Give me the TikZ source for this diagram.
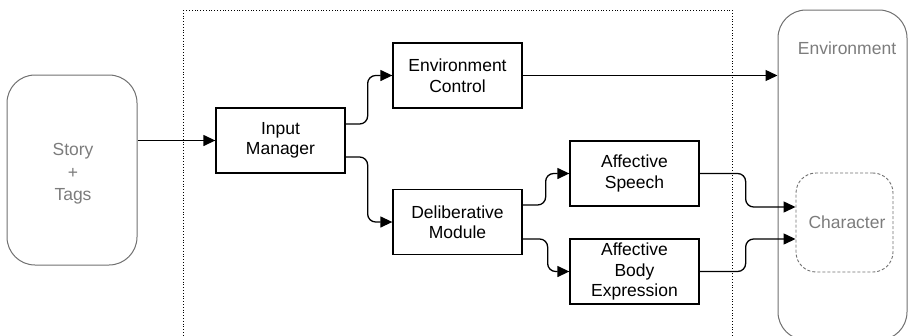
\documentclass[tikz,border=0pt]{standalone}
\usepackage{fontspec}
\setmainfont{Liberation Sans}
\usetikzlibrary{arrows.meta}
\definecolor{softgray}{HTML}{7C7C7C}
\definecolor{linegray}{HTML}{707070}
\begin{document}
\begin{tikzpicture}[x=1pt,y=-1pt,
  every node/.style={font=\fontsize{17.5}{20.5}\selectfont, align=center, inner sep=0pt},
  box/.style={draw=black, line width=1.3pt, minimum width=129pt, minimum height=65pt},
  softbox/.style={draw=linegray, line width=1pt, rounded corners=28pt, text=softgray},
  charbox/.style={draw=linegray, line width=0.9pt, dash pattern=on 3pt off 2pt, rounded corners=20pt, minimum width=97pt, minimum height=99pt},
  arr/.style={line width=1.3pt, -{Triangle[length=12pt,width=11pt]}, rounded corners=8pt},
  frame/.style={draw=black, line width=0.8pt, dotted}]
\useasboundingbox (0,0) rectangle (908,335);
\clip (0,0) rectangle (908,335);
% dotted frame
\draw[frame] (183,10) rectangle (732,345);
% nodes
\node[softbox, minimum width=130pt, minimum height=190pt] (st) at (72,170) {};
\node[text=softgray, font=\fontsize{17.5}{22.5}\selectfont] (stlbl) at (73,174) {Story\\+\\Tags};
\node[softbox, minimum width=129pt, minimum height=330pt] (env) at (842.5,175) {};
\node[text=softgray] (envlbl) at (847,48) {Environment};
\node[charbox] (ch) at (844.5,222.5) {};
\node[text=softgray] (chlbl) at (847,222) {Character};
\node[box] (im) at (280.5,140.5) {Input\\Manager};
\node[box] (ec) at (457.5,75.5) {Environment\\Control};
\node[box] (dm) at (457.5,222) {Deliberative\\Module};
\node[box] (as) at (634.5,173.5) {Affective\\Speech};
\node[box] (ab) at (634.5,271.5) {Affective\\Body\\Expression};
% connectors
\draw[arr] (im.west -| st.east) -- (im.west);
\draw[arr] ([yshift=16.5pt]im.east) -- ++(22,0) |- (ec.west);
\draw[arr] ([yshift=-16.5pt]im.east) -- ++(22,0) |- (dm.west);
\draw[arr] (ec.east) -- (ec.east -| env.west);
\draw[arr] ([yshift=17pt]dm.east) -- ++(23,0) |- (as.west);
\draw[arr] ([yshift=-17pt]dm.east) -- ++(25,0) |- (ab.west);
\draw[arr] (as.east) -- ++(46,0) |- ([yshift=15.5pt]ch.west);
\draw[arr] (ab.east) -- ++(46,0) |- ([yshift=-16.5pt]ch.west);
\end{tikzpicture}
\end{document}
